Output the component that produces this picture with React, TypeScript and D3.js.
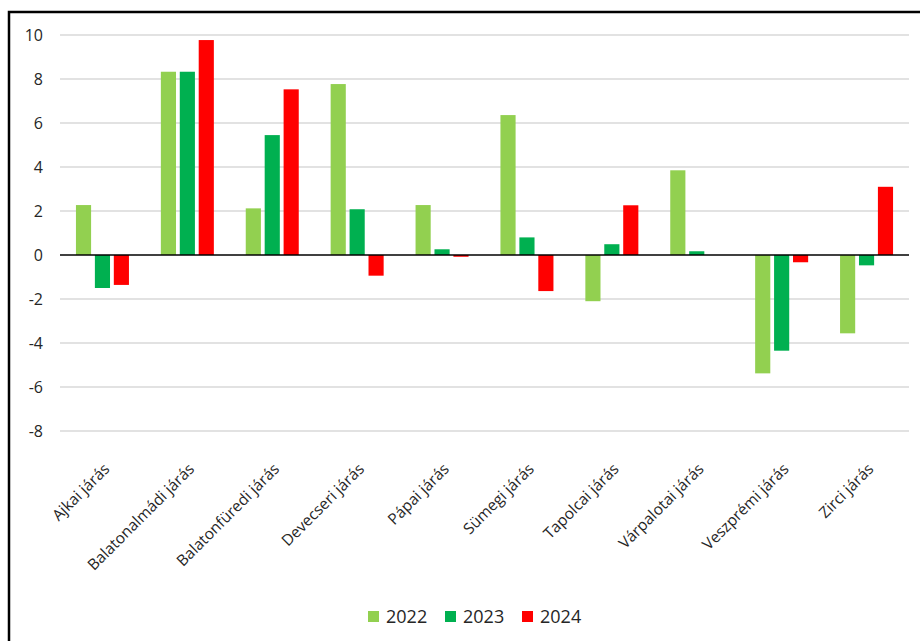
import * as d3 from 'd3';
import { useEffect, useRef } from 'react';

const categories = [
  'Ajkai járás',
  'Balatonalmádi járás',
  'Balatonfüredi járás',
  'Devecseri járás',
  'Pápai járás',
  'Sümegi járás',
  'Tapolcai járás',
  'Várpalotai járás',
  'Veszprémi járás',
  'Zirci járás',
];

const years = ['2022', '2023', '2024'];

const values2022 = [2.27, 8.33, 2.12, 7.77, 2.27, 6.36, -2.1, 3.85, -5.38, -3.56];
const values2023 = [-1.5, 8.33, 5.45, 2.08, 0.26, 0.8, 0.49, 0.17, -4.35, -0.47];
const values2024 = [-1.36, 9.77, 7.53, -0.94, -0.08, -1.64, 2.26, 0, -0.33, 3.1];

const yTicks = [-8, -6, -4, -2, 0, 2, 4, 6, 8, 10];

const colors = ['#92D050', '#00B050', '#FF0000'];

const FONT = '"Open Sans", "Liberation Sans", sans-serif';

function App() {
  const svgRef = useRef<SVGSVGElement | null>(null);
  const width = 920;
  const height = 641;

  useEffect(() => {
    if (!svgRef.current) {
      return;
    }
    const svg = d3.select(svgRef.current);
    svg.selectAll('*').remove();

    const plotLeft = 60;
    const plotRight = 909;
    const series = [values2022, values2023, values2024];

    const x0 = d3.scaleBand<string>().domain(categories).range([plotLeft, plotRight]);
    const groupWidth = 53;
    const x1 = d3.scaleBand<string>().domain(years).range([0, groupWidth]).paddingInner(0.2);
    const y = d3.scaleLinear().domain([-8, 10]).range([431, 35]);

    // outer frame
    svg
      .append('rect')
      .attr('x', 9)
      .attr('y', 12)
      .attr('width', 940)
      .attr('height', 700)
      .attr('fill', 'white')
      .attr('stroke', '#000')
      .attr('stroke-width', 2.5);

    // grid
    svg
      .append('g')
      .selectAll('line')
      .data(yTicks.filter((t) => t !== 0))
      .join('line')
      .attr('x1', plotLeft)
      .attr('x2', plotRight)
      .attr('y1', (d) => y(d))
      .attr('y2', (d) => y(d))
      .attr('stroke', '#d9d9d9')
      .attr('stroke-width', 1.5);

    // tick labels
    svg
      .append('g')
      .selectAll('text')
      .data(yTicks)
      .join('text')
      .attr('x', 43)
      .attr('y', (d) => y(d))
      .attr('dy', '0.35em')
      .attr('text-anchor', 'end')
      .attr('font-family', FONT)
      .attr('font-size', 16)
      .attr('fill', '#262626')
      .text((d) => String(d));

    // bars
    const offset = (x0.bandwidth() - groupWidth) / 2;
    years.forEach((year, s) => {
      svg
        .append('g')
        .selectAll('rect')
        .data(series[s])
        .join('rect')
        .attr('x', (_, i) => (x0(categories[i]) ?? 0) + offset + (x1(year) ?? 0))
        .attr('width', x1.bandwidth())
        .attr('y', (d) => y(Math.max(0, d)))
        .attr('height', (d) => Math.abs(y(d) - y(0)))
        .attr('fill', colors[s]);
    });

    // zero line
    svg
      .append('line')
      .attr('x1', plotLeft)
      .attr('x2', plotRight)
      .attr('y1', y(0))
      .attr('y2', y(0))
      .attr('stroke', '#000')
      .attr('stroke-width', 1.5);

    // category labels
    svg
      .append('g')
      .selectAll('text')
      .data(categories)
      .join('text')
      .attr('transform', (d) => `translate(${(x0(d) ?? 0) + x0.bandwidth() / 2 + 8},${470}) rotate(-45)`)
      .attr('text-anchor', 'end')
      .attr('font-family', FONT)
      .attr('font-size', 15.5)
      .attr('fill', '#262626')
      .text((d) => d);

    // legend
    const legendX = [368, 445, 522];
    const legend = svg
      .append('g')
      .selectAll('g')
      .data(years)
      .join('g')
      .attr('transform', (_, i) => `translate(${legendX[i]},611)`);
    legend
      .append('rect')
      .attr('width', 11)
      .attr('height', 11)
      .attr('fill', (_, i) => colors[i]);
    legend
      .append('text')
      .attr('x', 18)
      .attr('y', 6)
      .attr('dy', '0.35em')
      .attr('font-family', FONT)
      .attr('font-size', 18)
      .attr('fill', '#262626')
      .text((d) => d);
  }, []);

  return (
    <svg
      ref={svgRef}
      width={width}
      height={height}
      style={{ position: 'absolute', left: 0, top: 0, background: 'white' }}
    />
  );
}

export default App;
